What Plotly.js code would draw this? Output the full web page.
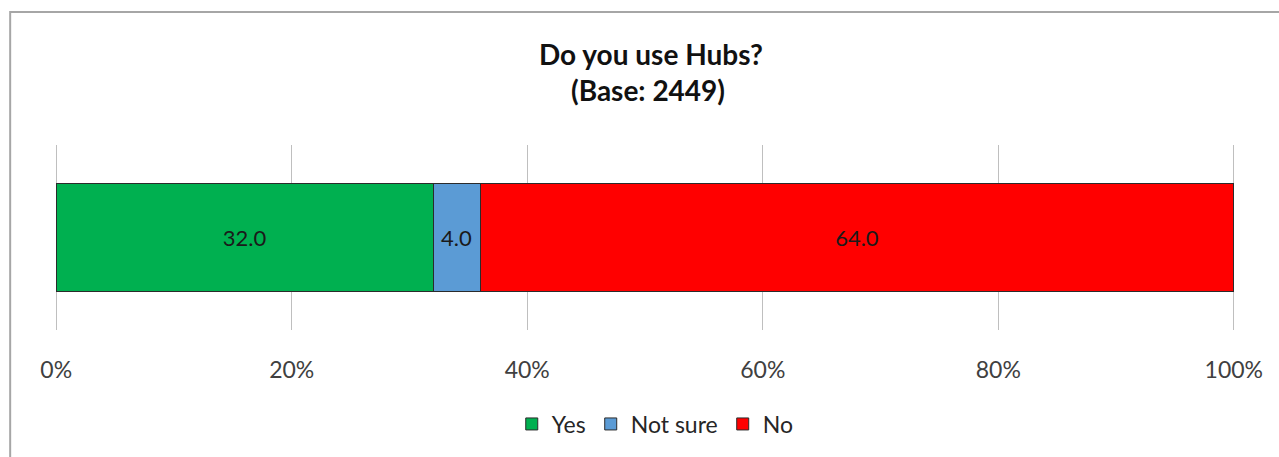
<!DOCTYPE html>
<html>
<head>
<meta charset="utf-8">
<script src="https://cdn.plot.ly/plotly-3.0.1.min.js"></script>
<style>html,body{margin:0;padding:0;background:#fff;}#chart{width:1279px;height:457px;}</style>
</head>
<body>
<div id="chart"></div>
<script>
const categories = [''];
const seriesNames = ['Yes', 'Not sure', 'No'];
const yesValues = [32.0];
const notSureValues = [4.0];
const noValues = [64.0];
const seriesColors = ['#00B050', '#5B9BD5', '#FF0000'];
const tickValues = [0, 20, 40, 60, 80, 100];
const tickLabels = ['0%', '20%', '40%', '60%', '80%', '100%'];
const titleLine1 = 'Do you use Hubs?';
const titleLine2 = '(Base: 2449)';

const FONT = 'Lato, "Open Sans", sans-serif';
const seriesValues = [yesValues, notSureValues, noValues];

const traces = seriesNames.map((name, i) => ({
  type: 'bar',
  orientation: 'h',
  name: name,
  y: categories,
  x: seriesValues[i],
  marker: {color: seriesColors[i], line: {color: '#2b2b2b', width: 1}},
  texttemplate: '%{x:.1f}',
  textposition: 'inside',
  insidetextanchor: 'middle',
  textangle: 0,
  textfont: {family: FONT, size: 22, color: '#1a1a1a'},
  hoverinfo: 'skip'
}));

// pixel frame of the value axis (0% .. 100%) and plot area
const X0 = 56, X100 = 1233.5, T = 145, B = 330;
const pad = 0.1; // small range padding so edge gridlines are drawn
const unit = (X100 - X0) / 100;
const L = X0 - pad * unit, R = X100 + pad * unit;
const pw = R - L, ph = B - T;
const px = v => (v - L) / pw;
const py = v => (B - v) / ph;

const layout = {
  width: 1279, height: 457,
  margin: {l: L, r: 1279 - R, t: T, b: 457 - B, pad: 0},
  paper_bgcolor: '#ffffff', plot_bgcolor: '#ffffff',
  barmode: 'stack',
  bargap: 0.416,
  showlegend: true,
  font: {family: FONT, color: '#404040'},
  xaxis: {
    range: [-pad, 100 + pad], tickvals: tickValues, ticktext: tickLabels,
    showgrid: true, gridcolor: '#bfbfbf', gridwidth: 1,
    zeroline: false, showline: false, ticks: '',
    tickfont: {family: FONT, size: 23, color: '#404040'},
    ticklabelstandoff: 24, fixedrange: true
  },
  yaxis: {showticklabels: false, showgrid: false, zeroline: false, fixedrange: true, range: [-0.5, 0.5]},
  legend: {
    orientation: 'h', x: px(655), xanchor: 'center', y: py(424), yanchor: 'middle',
    font: {family: FONT, size: 23, color: '#262626'}, traceorder: 'normal'
  },
  annotations: [
    {text: '<b>' + titleLine1 + '</b>', xref: 'paper', yref: 'paper', x: px(651), y: py(54),
     xanchor: 'center', yanchor: 'middle', showarrow: false,
     font: {family: FONT, size: 28, color: '#111111'}},
    {text: '<b>' + titleLine2 + '</b>', xref: 'paper', yref: 'paper', x: px(648), y: py(90),
     xanchor: 'center', yanchor: 'middle', showarrow: false,
     font: {family: FONT, size: 28, color: '#111111'}}
  ],
  shapes: [
    {type: 'rect', xref: 'paper', yref: 'paper', x0: px(10), x1: px(1300), y0: py(480), y1: py(12),
     line: {color: '#a6a6a6', width: 2}, fillcolor: 'rgba(0,0,0,0)', layer: 'below'}
  ]
};

Plotly.newPlot('chart', traces, layout, {displayModeBar: false, staticPlot: true});
</script>
</body>
</html>
